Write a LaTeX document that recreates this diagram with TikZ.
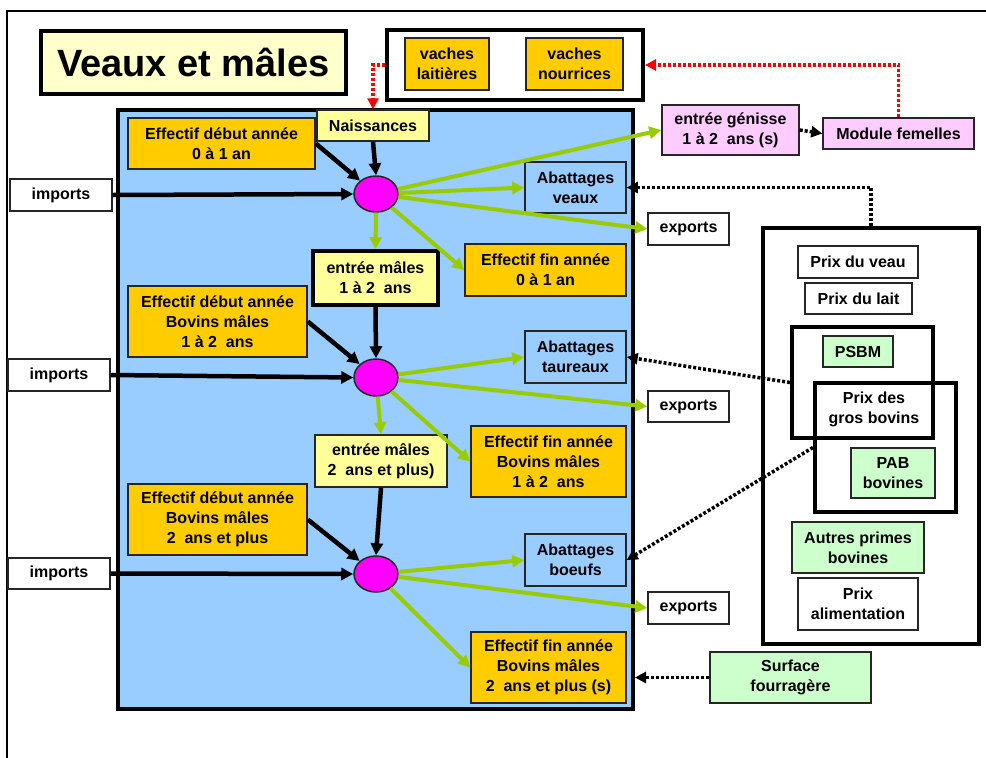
\documentclass[tikz,border=0pt]{standalone}
\usepackage{fontspec}
\setmainfont{Liberation Sans}
\usetikzlibrary{shapes.geometric,arrows.meta,calc}
\definecolor{orng}{HTML}{FFCC00}
\definecolor{ttl}{HTML}{FFFFCC}
\definecolor{lyel}{HTML}{FFFF99}
\definecolor{lblue}{HTML}{99CCFF}
\definecolor{lpink}{HTML}{FFCCFF}
\definecolor{lgreen}{HTML}{CCFFCC}
\definecolor{magen}{HTML}{FF00FF}
\definecolor{agreen}{HTML}{99CC00}
\definecolor{dred}{HTML}{FF0000}
\begin{document}
\begin{tikzpicture}[x=1pt,y=-1pt,
  bx/.style={draw=black!85, line width=1.5pt, inner sep=0pt, align=center,
    font=\bfseries\fontsize{16}{20}\selectfont},
  thk/.style={draw=black, line width=4pt, inner sep=0pt},
  txt/.style={inner sep=0pt, align=center, font=\bfseries\fontsize{16}{20}\selectfont},
  hub/.style={ellipse, draw=black!85, line width=1.5pt, fill=magen, inner sep=0pt,
    minimum width=44pt, minimum height=36pt},
  blk/.style={line width=4.5pt, draw=black, -{Triangle[length=12pt,width=12pt]}},
  grn/.style={line width=4pt, draw=agreen, -{Triangle[length=12pt,width=12pt]}},
  dotblk/.style={line width=3.5pt, draw=black, dash pattern=on 3pt off 2pt,
    -{Triangle[length=11pt,width=11pt]}},
  dotred/.style={dotblk, draw=dred}]
\useasboundingbox (0,0) rectangle (986,758);
\fill[white] (0,0) rectangle (986,758);
% outer frame
\draw[line width=2.5pt] (7,758) -- (7,11) -- (986,11);

% title
\node[thk, fill=ttl, minimum width=305pt, minimum height=63pt,
  font=\bfseries\fontsize{38}{44}\selectfont] (title) at (193.5,62.5) {Veaux et mâles};

% cows
\node[thk, fill=white, minimum width=256pt, minimum height=70pt] (cows) at (515,65) {};
\node[bx, fill=orng, minimum width=84pt, minimum height=52pt] (vl) at (447,64) {vaches\\laitières};
\node[bx, fill=orng, minimum width=97pt, minimum height=52pt] (vn) at (574.5,64) {vaches\\nourrices};

% blue box
\node[thk, fill=lblue, minimum width=515pt, minimum height=599pt] (blue) at (375.5,409.5) {};

% row 1
\node[bx, fill=lyel, minimum width=112pt, minimum height=31pt] (nais) at (373,125.5) {Naissances};
\node[bx, fill=orng, minimum width=187pt, minimum height=51pt] (ed1) at (221.5,143.5) {Effectif début année\\0 à 1 an};
\node[bx, fill=white, minimum width=102pt, minimum height=32pt] (imp1) at (61,195) {imports};
\node[hub] (ell1) at (376,194) {};
\node[bx, fill=lpink, minimum width=137pt, minimum height=50pt] (gen) at (730.5,130) {entrée génisse\\1 à 2~ ans (s)};
\node[bx, fill=lpink, minimum width=151pt, minimum height=31pt] (modfem) at (898.5,133.5) {Module femelles};
\node[bx, fill=lblue, minimum width=101pt, minimum height=51pt] (abv) at (575.5,187.5) {Abattages\\veaux};
\node[bx, fill=white, minimum width=81pt, minimum height=32pt] (exp1) at (688.5,229) {exports};
\node[bx, fill=orng, minimum width=161pt, minimum height=52pt] (ef1) at (545.5,270) {Effectif fin année\\0 à 1 an};

% row 2
\node[bx, fill=lyel, line width=3.5pt, draw=black, minimum width=125pt, minimum height=54pt] (em12) at (375.5,278) {entrée mâles\\1 à 2~ ans};
\node[bx, fill=orng, minimum width=179pt, minimum height=71pt] (ed2) at (217.5,321.5) {Effectif début année\\Bovins mâles\\1 à 2~ ans};
\node[bx, fill=white, minimum width=102pt, minimum height=32pt] (imp2) at (59,375) {imports};
\node[hub, minimum height=37pt] (ell2) at (376,377.5) {};
\node[bx, fill=lblue, minimum width=101pt, minimum height=52pt] (abt) at (575.5,357) {Abattages\\taureaux};
\node[bx, fill=white, minimum width=81pt, minimum height=31pt] (exp2) at (688.5,406.5) {exports};
\node[bx, fill=lyel, minimum width=132pt, minimum height=52pt] (em2) at (381,461) {entrée mâles\\2~ ans et plus)};
\node[bx, fill=orng, minimum width=155pt, minimum height=71pt] (ef2) at (548.5,461.5) {Effectif fin année\\Bovins mâles\\1 à 2~ ans};

% row 3
\node[bx, fill=orng, minimum width=179pt, minimum height=71pt] (ed3) at (217.5,519.5) {Effectif début année\\Bovins mâles\\2~ ans et plus};
\node[bx, fill=white, minimum width=102pt, minimum height=31pt] (imp3) at (59,573.5) {imports};
\node[hub] (ell3) at (376,574) {};
\node[bx, fill=lblue, minimum width=101pt, minimum height=52pt] (abb) at (575.5,560) {Abattages\\boeufs};
\node[bx, fill=white, minimum width=81pt, minimum height=32pt] (exp3) at (688.5,608) {exports};
\node[bx, fill=orng, minimum width=155pt, minimum height=71pt] (ef3) at (548.5,667.5) {Effectif fin année\\Bovins mâles\\2~ ans et plus (s)};

% right panel
\node[thk, fill=white, minimum width=216pt, minimum height=416pt] (panel) at (871,436) {};
\node[bx, fill=white, minimum width=120pt, minimum height=32pt] (pveau) at (858,262) {Prix du veau};
\node[bx, fill=white, minimum width=107pt, minimum height=31pt] (plait) at (858.5,298.5) {Prix du lait};
\node[bx, fill=lgreen, minimum width=70pt, minimum height=31pt] (psbm) at (858,351.5) {PSBM};
\node[bx, fill=lgreen, minimum width=84pt, minimum height=50pt] (pab) at (893,473) {PAB\\bovines};
\node[thk, minimum width=141pt, minimum height=111pt] (grp1) at (862.5,382.5) {};
\node[thk, minimum width=141pt, minimum height=129pt] (grp2) at (885.5,447.5) {};
\node[txt] (pgb) at (874,409) {Prix des\\gros bovins};
\node[bx, fill=lgreen, minimum width=132pt, minimum height=51pt] (autres) at (858,547.5) {Autres primes\\bovines};
\node[bx, fill=white, minimum width=120pt, minimum height=52pt] (palim) at (858,604) {Prix\\alimentation};
\node[bx, fill=lgreen, minimum width=161pt, minimum height=51pt] (surf) at (790.5,677.5) {Surface\\fourragère};

% black arrows
\draw[blk] (ed1.east) -- (ell1);
\draw[blk] (nais.south) -- (ell1.north);
\draw[blk] (imp1.east) -- (ell1.west);
\draw[blk] (ed2.east) -- (ell2);
\draw[blk] (em12.south) -- (ell2.north);
\draw[blk] (imp2.east) -- (ell2.west);
\draw[blk] (ed3.east) -- (ell3);
\draw[blk] (em2.south) -- (ell3.north);
\draw[blk] (imp3.east) -- (ell3.west);

% green arrows
\draw[grn] (ell1) -- (gen.west);
\draw[grn] (ell1) -- (abv.west);
\draw[grn] (ell1) -- (exp1.west);
\draw[grn] (ell1) -- (ef1.west);
\draw[grn] (ell1.south) -- (em12.north);
\draw[grn] (ell2) -- (abt.west);
\draw[grn] (ell2) -- (exp2.west);
\draw[grn] (ell2) -- (em2.north);
\draw[grn] (ell2) -- (ef2.west);
\draw[grn] (ell3) -- (abb.west);
\draw[grn] (ell3) -- (exp3.west);
\draw[grn] (ell3) -- (ef3.west);

% dotted
\draw[dotblk] (gen.east) -- (modfem.west);
\draw[dotred] (modfem.north) |- (cows.east);
\draw[dotred] (cows.west) -| (nais.north);
\draw[dotblk] (panel.north) |- (abv.east);
\draw[dotblk] (grp1.west) -- (abt.east);
\draw[dotblk] (grp2.west) -- (abb.east);
\draw[dotblk] (surf.west) -- (surf.west -| blue.east);
\end{tikzpicture}
\end{document}
